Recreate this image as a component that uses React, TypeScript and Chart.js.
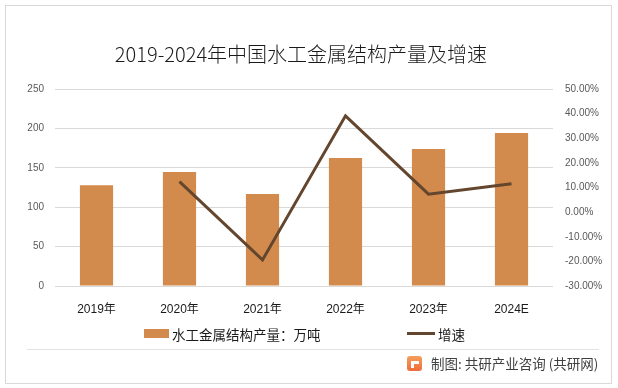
import React, { useEffect, useRef } from 'react';
import { Chart, registerables } from 'chart.js';

Chart.register(...registerables);

const categories = ['2019年', '2020年', '2021年', '2022年', '2023年', '2024E'];
const outputValues = [128, 144.7, 116.8, 162.4, 173.9, 194.2];
const growthRates = [null, 12.4, -19.4, 39.1, 7.3, 11.5];

const leftMin = 0;
const leftMax = 250;
const leftStep = 50;
const rightMin = -30;
const rightMax = 50;
const rightStep = 10;

const TITLE = '2019-2024年中国水工金属结构产量及增速';
const BAR_LABEL = '水工金属结构产量：万吨';
const LINE_LABEL = '增速';
const FOOTER = '制图: 共研产业咨询 (共研网)';

const BAR_COLOR = '#D38B4D';
const LINE_COLOR = '#63462D';
const GRID_COLOR = '#d9d9d9';
const FONT = "'Liberation Sans', 'Noto Sans CJK SC', sans-serif";
const CJK = "'Noto Sans CJK SC', sans-serif";

export default function App() {
  const ref = useRef<HTMLCanvasElement>(null);

  useEffect(() => {
    const canvas = ref.current;
    if (!canvas) return;
    const chart = new Chart(canvas, {
      type: 'bar',
      data: {
        labels: categories,
        datasets: [
          {
            type: 'line',
            label: LINE_LABEL,
            data: growthRates as any,
            yAxisID: 'y1',
            borderColor: LINE_COLOR,
            backgroundColor: LINE_COLOR,
            borderWidth: 3,
            pointRadius: 0,
            tension: 0,
            order: 0,
          } as any,
          {
            type: 'bar',
            label: BAR_LABEL,
            data: outputValues,
            yAxisID: 'y',
            backgroundColor: BAR_COLOR,
            categoryPercentage: 1,
            barPercentage: 0.4,
            order: 1,
          },
        ],
      },
      options: {
        responsive: false,
        animation: false,
        devicePixelRatio: 1,
        layout: { padding: { top: 89, bottom: 72, left: 0, right: 0 } },
        plugins: {
          legend: { display: false },
          title: { display: false },
          tooltip: { enabled: false },
        },
        scales: {
          x: {
            grid: { display: false, drawTicks: false },
            border: { display: false },
            ticks: {
              color: '#1a1a1a',
              font: { family: FONT, size: 12 },
              padding: 16,
              maxRotation: 0,
              autoSkip: false,
            },
            afterFit: (s: any) => {
              s.height = 30;
            },
          },
          y: {
            position: 'left',
            min: leftMin,
            max: leftMax,
            ticks: {
              stepSize: leftStep,
              padding: 11,
              color: '#595959',
              font: { family: FONT, size: 10 },
            },
            grid: { color: GRID_COLOR, lineWidth: 1, drawTicks: false },
            border: { display: false },
            afterFit: (s: any) => {
              s.width = 55;
            },
          },
          y1: {
            position: 'right',
            min: rightMin,
            max: rightMax,
            ticks: {
              stepSize: rightStep,
              padding: 12,
              color: '#595959',
              font: { family: FONT, size: 10 },
              callback: (v: any) => Number(v).toFixed(2) + '%',
            },
            grid: { display: false, drawTicks: false },
            border: { display: false },
            afterFit: (s: any) => {
              s.width = 65;
            },
          },
        },
      } as any,
    });
    return () => chart.destroy();
  }, []);

  return (
    <div
      style={{
        position: 'absolute',
        left: 0,
        top: 0,
        width: 618,
        height: 388,
        background: '#fff',
        overflow: 'hidden',
      }}
    >
      <div
        style={{
          position: 'absolute',
          left: 5,
          top: 5,
          width: 605,
          height: 377,
          border: '1px solid #d9d9d9',
        }}
      />
      <canvas
        ref={ref}
        width={618}
        height={388}
        style={{ position: 'absolute', left: 0, top: 0, width: 618, height: 388 }}
      />
      <div
        style={{
          position: 'absolute',
          left: 0,
          width: 602,
          top: 40,
          height: 28,
          lineHeight: '28px',
          textAlign: 'center',
          fontFamily: CJK,
          fontWeight: 300,
          fontSize: 20,
          color: '#1a1a1a',
          whiteSpace: 'nowrap',
        }}
      >
        {TITLE}
      </div>
      {/* legend */}
      <div
        style={{
          position: 'absolute',
          left: 144,
          top: 329,
          width: 25,
          height: 9,
          background: BAR_COLOR,
        }}
      />
      <div
        style={{
          position: 'absolute',
          left: 172,
          top: 324,
          height: 20,
          lineHeight: '20px',
          fontFamily: CJK,
          fontSize: 13.5,
          color: '#1a1a1a',
          whiteSpace: 'nowrap',
        }}
      >
        {BAR_LABEL}
      </div>
      <div
        style={{
          position: 'absolute',
          left: 407,
          top: 332,
          width: 28,
          height: 3,
          background: LINE_COLOR,
        }}
      />
      <div
        style={{
          position: 'absolute',
          left: 438,
          top: 324,
          height: 20,
          lineHeight: '20px',
          fontFamily: CJK,
          fontSize: 13.5,
          color: '#1a1a1a',
          whiteSpace: 'nowrap',
        }}
      >
        {LINE_LABEL}
      </div>
      {/* footer */}
      <div
        style={{
          position: 'absolute',
          left: 27,
          top: 349,
          width: 572,
          height: 1,
          background: '#e3e3e3',
        }}
      />
      <div
        style={{
          position: 'absolute',
          left: 407,
          top: 356,
          width: 15,
          height: 15,
          borderRadius: 3,
          background: 'linear-gradient(180deg, #F5A05A 0%, #EE6B3B 100%)',
        }}
      >
        <div
          style={{
            position: 'absolute',
            left: 4,
            top: 5,
            width: 8,
            height: 3,
            background: '#fff',
          }}
        />
        <div
          style={{
            position: 'absolute',
            left: 4,
            top: 8,
            width: 3,
            height: 4,
            background: '#fff',
          }}
        />
      </div>
      <div
        style={{
          position: 'absolute',
          left: 431,
          top: 353,
          height: 20,
          lineHeight: '20px',
          fontFamily: CJK,
          fontSize: 13.5,
          color: '#404040',
          whiteSpace: 'nowrap',
        }}
      >
        {FOOTER}
      </div>
    </div>
  );
}
